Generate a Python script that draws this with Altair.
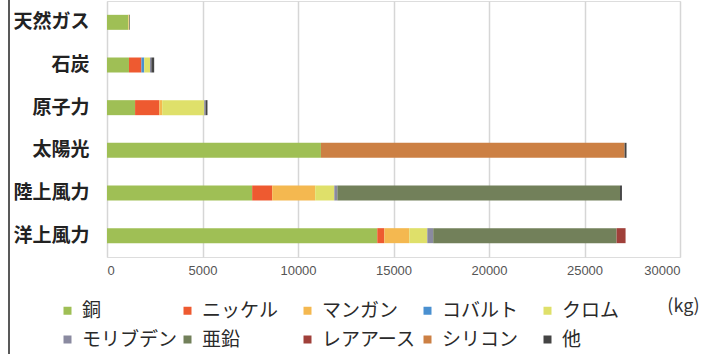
import altair as alt
import pandas as pd

categories = ["天然ガス", "石炭", "原子力", "太陽光", "陸上風力", "洋上風力"]
series = ["銅", "ニッケル", "マンガン", "コバルト", "クロム", "モリブデン", "亜鉛", "レアアース", "シリコン", "他"]
colors = ["#9fbf55", "#ee5a30", "#f4b850", "#4a90d0", "#dfe06a", "#8a8aa0", "#72805a", "#a0403a", "#cc8044", "#444444"]

copper = [1100, 1150, 1470, 11200, 7600, 14150]
nickel = [20, 650, 1270, 0, 1050, 370]
manganese = [0, 0, 150, 0, 2250, 1310]
cobalt = [0, 150, 0, 0, 0, 0]
chromium = [50, 300, 2200, 0, 1000, 940]
molybdenum = [0, 70, 70, 0, 160, 310]
zinc = [0, 0, 0, 0, 14800, 9600]
rare_earth = [0, 0, 0, 0, 0, 470]
silicon = [0, 0, 0, 15900, 0, 0]
other = [30, 150, 100, 100, 100, 0]

values = [copper, nickel, manganese, cobalt, chromium, molybdenum, zinc, rare_earth, silicon, other]
rows = []
for si, (name, vals) in enumerate(zip(series, values)):
    for cat, v in zip(categories, vals):
        rows.append({"cat": cat, "mineral": name, "order": si, "kg": v})
df = pd.DataFrame(rows)

font = "Noto Sans CJK JP"

bars = alt.Chart(df).mark_bar(size=15).encode(
    y=alt.Y("cat:N", sort=categories, title=None,
            axis=alt.Axis(labelFont=font, labelFontSize=19, labelFontWeight="bold",
                          labelColor="#222", ticks=False, domain=False, labelPadding=18)),
    x=alt.X("kg:Q", stack="zero",
            scale=alt.Scale(domain=[0, 30000], nice=False),
            axis=alt.Axis(values=[0, 5000, 10000, 15000, 20000, 25000, 30000], format="d",
                          labelFont="Liberation Sans", labelFontSize=13, labelColor="#555",
                          ticks=False, domain=False, labelPadding=7,
                          grid=True, gridColor="#d6d6d6", gridWidth=1.5,
                          title="(kg)", titleFont=font, titleFontSize=18, titleFontWeight="normal",
                          titleColor="#333", titleX=576, titleY=49, titleAlign="center",
                          titleBaseline="middle", titleAnchor="start")),
    color=alt.Color("mineral:N", scale=alt.Scale(domain=series, range=colors),
                    legend=alt.Legend(title=None, orient="none", legendX=-49, legendY=300,
                                      direction="horizontal", columns=5, gridAlign="all",
                                      symbolType="square", symbolSize=64,
                                      symbolStrokeWidth=0, labelFont=font, labelFontSize=19,
                                      labelColor="#2a2a2a", columnPadding=0, rowPadding=9,
                                      labelLimit=200, padding=0, symbolOffset=0, labelOffset=5)),
    order=alt.Order("order:Q"),
)

frame = alt.Chart(pd.DataFrame({"a": [0]})).mark_rule(color="#222", strokeWidth=1.5, clip=False).encode(
    x=alt.value(-98), y=alt.value(-5), y2=alt.value(360)
)

chart = alt.layer(bars, frame).properties(
    width=573, height=256,
    autosize=alt.AutoSizeParams(type="none"),
    padding={"left": 107, "top": 1, "right": 21, "bottom": 97},
).configure_view(stroke=None).configure(background="white")

chart.save("out.html", embed_options={"renderer": "svg", "actions": False})
